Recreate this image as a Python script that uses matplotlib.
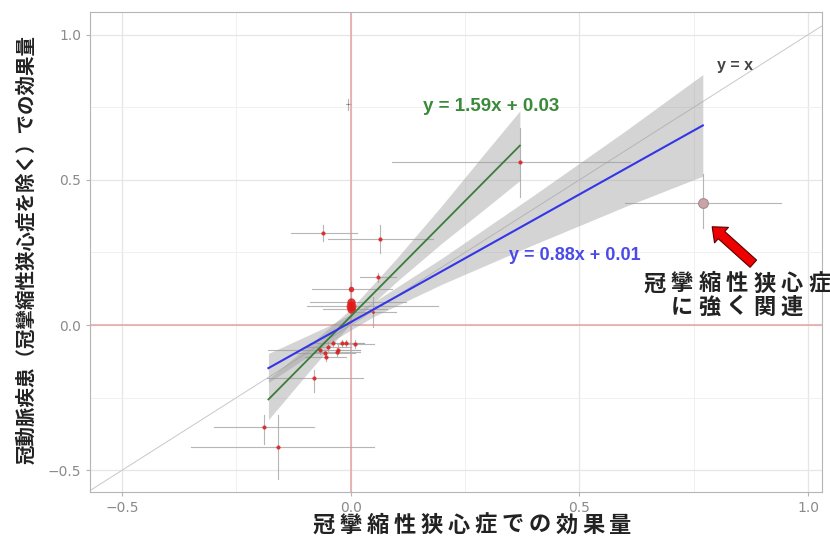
import matplotlib
matplotlib.use('Agg')
import matplotlib.pyplot as plt
from matplotlib import transforms
import numpy as np

JP = ['Noto Sans CJK JP', 'DejaVu Sans']

# per-SNP effect sizes (x: vasospastic angina, y: CAD excl. VSA) with CI bars
pt_x = [-0.061, 0.065, 0.37, 0.77, -0.005, -0.19, -0.16, -0.081, 0.0, 0.0, 0.0, 0.0, 0.059, 0.048,
        -0.068, -0.057, -0.05, -0.039, -0.028, -0.02, -0.011, 0.009, -0.031, -0.055]
pt_y = [0.317, 0.295, 0.56, 0.42, 0.76, -0.35, -0.42, -0.183, 0.124, 0.08, 0.066, 0.055, 0.166, 0.045,
        -0.086, -0.097, -0.076, -0.062, -0.086, -0.062, -0.062, -0.066, -0.093, -0.11]
x_lo = [-0.13, -0.05, 0.09, 0.60, -0.01, -0.30, -0.35, -0.184, -0.085, -0.09, -0.095, -0.06, 0.02, 0.0,
        -0.18, -0.12, -0.10, -0.09, -0.07, -0.06, -0.05, -0.03, -0.08, -0.10]
x_hi = [0.013, 0.18, 0.61, 0.94, 0.0, -0.08, 0.05, 0.026, 0.09, 0.12, 0.19, 0.08, 0.10, 0.10,
        0.02, 0.01, 0.0, 0.02, 0.02, 0.03, 0.03, 0.05, 0.02, -0.01]
y_lo = [0.29, 0.248, 0.44, 0.335, 0.74, -0.41, -0.53, -0.231, 0.10, 0.06, 0.04, 0.03, 0.15, -0.007,
        -0.10, -0.11, -0.09, -0.075, -0.10, -0.075, -0.075, -0.08, -0.105, -0.125]
y_hi = [0.345, 0.345, 0.68, 0.52, 0.78, -0.31, -0.31, -0.155, 0.15, 0.10, 0.09, 0.08, 0.18, 0.097,
        -0.07, -0.085, -0.06, -0.05, -0.07, -0.05, -0.05, -0.05, -0.08, -0.095]
pt_size = [3, 3, 3, 7, 1, 3, 3, 3, 4, 6, 7, 6, 3, 2,
           3, 3, 3, 3, 3, 3, 3, 3, 3, 3]
highlight = 3

# regression fits (slope, intercept) and CI bands
green_coef = (1.59, 0.03)
green_x = [-0.18, -0.09, 0.0, 0.1, 0.2, 0.29, 0.37]
green_lo = [-0.326, -0.158, 0.005, 0.149, 0.283, 0.396, 0.498]
green_hi = [-0.186, -0.068, 0.055, 0.229, 0.413, 0.586, 0.738]
blue_coef = (0.88, 0.01)
blue_x = [-0.18, -0.05, 0.05, 0.2, 0.4, 0.6, 0.77]
blue_lo = [-0.198, -0.064, 0.029, 0.141, 0.277, 0.408, 0.513]
blue_hi = [-0.098, -0.004, 0.079, 0.231, 0.447, 0.668, 0.863]

note_lines = ['冠攣縮性狭心症', 'に強く関連']
x_title = '冠攣縮性狭心症での効果量'
y_title = '冠動脈疾患（冠攣縮性狭心症を除く）での効果量'

fig = plt.figure(figsize=(8.3, 5.38), dpi=100)
ax = fig.add_axes([0.108, 0.085, 0.882, 0.893])
ax.set_xlim(-0.571, 1.03)
ax.set_ylim(-0.576, 1.079)
PIX = transforms.IdentityTransform()


def spaced_text(line, x0, y0, pitch, **kw):
    # matplotlib has no letter-spacing, so lay the glyphs out one by one (pixel coords, y up)
    n = len(line)
    for k, ch in enumerate(line):
        off = (k - (n - 1) / 2) * pitch
        fig.text(x0 + off, y0, ch, transform=PIX, ha='center', va='center', **kw)


ax.set_xticks([-0.5, 0.0, 0.5, 1.0])
ax.set_yticks([-0.5, 0.0, 0.5, 1.0])
ax.set_xticks([-0.25, 0.25, 0.75], minor=True)
ax.set_yticks([-0.25, 0.25, 0.75], minor=True)
ax.grid(which='major', color='#e6e6e6', lw=0.9)
ax.grid(which='minor', color='#f0f0f0', lw=0.7)
ax.set_axisbelow(True)
for s in ax.spines.values():
    s.set_color('#b5b5b5')
    s.set_linewidth(0.8)
ax.tick_params(which='both', length=3, color='#b5b5b5', labelcolor='#8a8a8a', labelsize=10, pad=3)
ax.tick_params(which='minor', length=0)

ax.axhline(0, color='#e4a3a3', lw=1.1, zorder=1)
ax.axvline(0, color='#e4a3a3', lw=1.1, zorder=1)
ax.plot([-1, 2], [-1, 2], color='#c8c8c8', lw=0.7, zorder=1)
ax.text(0.84, 0.895, 'y = x', color='#444444', fontsize=11.5, fontweight='bold',
        family='Liberation Sans', ha='center', va='center')

# error bars and points
for i in range(len(pt_x)):
    ax.plot([x_lo[i], x_hi[i]], [pt_y[i], pt_y[i]], color='#a9a9a9', lw=0.8, alpha=0.85, zorder=2)
    ax.plot([pt_x[i], pt_x[i]], [y_lo[i], y_hi[i]], color='#a9a9a9', lw=0.8, alpha=0.85, zorder=2)
for i in range(len(pt_x)):
    if i == highlight:
        ax.plot(pt_x[i], pt_y[i], 'o', ms=pt_size[i], mfc='#c9a3a8', mec='#a88a90', mew=0.8, zorder=3)
    else:
        ax.plot(pt_x[i], pt_y[i], 'o', ms=pt_size[i], mfc='#e01818', mec='none', alpha=0.85, zorder=3)

# bands and fitted lines
ax.fill_between(green_x, green_lo, green_hi, color='#9a9a9a', alpha=0.42, lw=0, zorder=2)
ax.fill_between(blue_x, blue_lo, blue_hi, color='#9a9a9a', alpha=0.42, lw=0, zorder=2)
gx = np.array([green_x[0], green_x[-1]])
bx = np.array([blue_x[0], blue_x[-1]])
ax.plot(gx, green_coef[0] * gx + green_coef[1], color='#3a7d3a', lw=1.3, zorder=4)
ax.plot(bx, blue_coef[0] * bx + blue_coef[1], color='#3535e8', lw=1.5, zorder=4)

ax.text(0.306, 0.752, 'y = %.2fx + %.2f' % green_coef, color='#3a8a3a', fontsize=13.5,
        fontweight='bold', family='Liberation Sans', ha='center', va='center')
ax.text(0.49, 0.241, 'y = %.2fx + %.2f' % blue_coef, color='#4a4ae8', fontsize=13,
        fontweight='bold', family='Liberation Sans', ha='center', va='center')

# arrow pointing at the highlighted SNP
hx, hy = pt_x[highlight], pt_y[highlight]
ax.annotate('', xy=(hx + 0.016, hy - 0.075), xytext=(hx + 0.115, hy - 0.215),
            arrowprops=dict(arrowstyle='simple,head_length=0.9,head_width=1.5,tail_width=0.7',
                            fc='#ee0000', ec='#5a0000', lw=0.8), zorder=5)

# note text
for row, line in enumerate(note_lines):
    spaced_text(line, 737, 538 - 284 - row * 23, 27.5, family=JP, fontsize=16,
                fontweight='bold', color='#222222', zorder=6)

# axis titles
spaced_text(x_title, 472, 538 - 525, 27, family=JP, fontsize=16,
            fontweight='bold', color='#222222')
fig.text(26, 538 - 250, y_title, transform=PIX, family=JP,
         fontsize=14, fontweight='bold', color='#222222', rotation=90, ha='center', va='center')

fig.savefig('out.png', dpi=100, facecolor='white')
